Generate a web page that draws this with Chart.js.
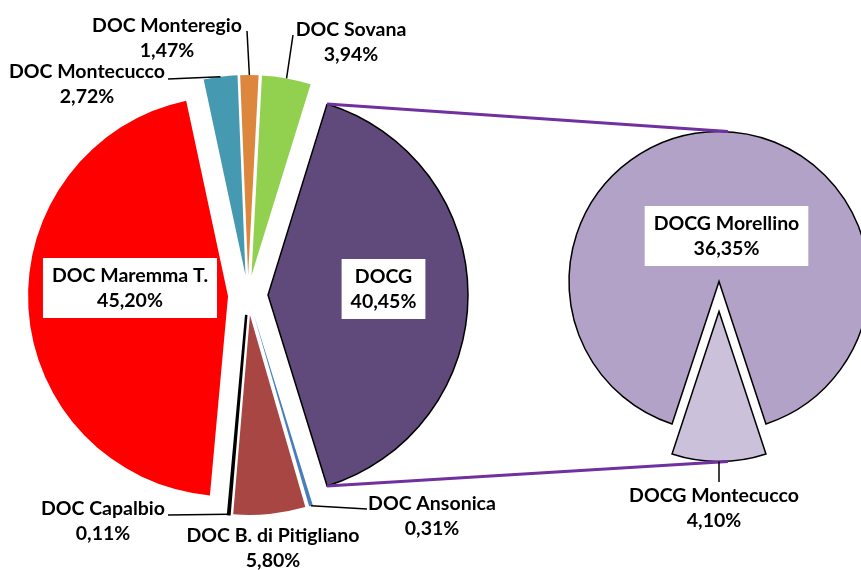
<!DOCTYPE html>
<html>
<head>
<meta charset="utf-8">
<script src="https://cdn.jsdelivr.net/npm/chart.js@4.4.1/dist/chart.umd.min.js"></script>
<style>
  html, body { margin: 0; padding: 0; background: #fff; overflow: hidden; }
  #wrap { position: relative; width: 861px; height: 570px; }
  canvas { position: absolute; left: 0; top: 0; }
</style>
</head>
<body>
<div id="wrap">
  <canvas id="grafica1" width="861" height="570"></canvas>
  <canvas id="grafica2" width="900" height="570"></canvas>
</div>
<script>
// dati
const mainLabels = ['DOCG', 'DOC Ansonica', 'DOC B. di Pitigliano', 'DOC Capalbio',
                    'DOC Maremma T.', 'DOC Montecucco', 'DOC Monteregio', 'DOC Sovana'];
const mainValues = [40.45, 0.31, 5.80, 0.11, 45.20, 2.72, 1.47, 3.94];
const docgLabels = ['DOCG Montecucco', 'DOCG Morellino'];
const docgValues = [4.10, 36.35];

const mainColors = ['#604a7b', '#4a7ebb', '#a84643', '#000000', '#ff0000', '#4599b1', '#dc863e', '#92d050'];
const mainBorders = [1.5, 0, 0, 2.5, 0, 0, 0, 0];
const docgColors = ['#ccc1da', '#b3a2c7'];

// posizione etichette (x centro, y prima riga, fine linea guida)
const mainLabelPos = [
    {x: 383.5, y: 283, box: true},
    {x: 432, y: 510, lx: 367, ly: 509},
    {x: 273, y: 542},
    {x: 103, y: 515, lx: 168, ly: 515},
    {x: 130, y: 282, box: true},
    {x: 87, y: 78, lx: 168, ly: 79},
    {x: 167, y: 32, lx: 247, ly: 31},
    {x: 351, y: 36, lx: 293, ly: 35}
];
const docgLabelPos = [
    {x: 714, y: 502, lx: 719, ly: 482},
    {x: 726.5, y: 230, box: true}
];

const FONT = 'bold 19.5px Lato';
const LINE_H = 25;

function fmt(v) {
    return v.toFixed(2).replace('.', ',') + '%';
}

function padFor(cx, cy, r, bw, w, h) {
    const size = 2 * r + bw;
    const left = cx - size / 2;
    const top = cy - size / 2;
    return {left: left, top: top, right: w - left - size, bottom: h - top - size};
}

// centro spostato della fetta (esplosa)
function shifted(arc, dist) {
    const mid = (arc.startAngle + arc.endAngle) / 2;
    return {x: arc.x + Math.cos(mid) * dist, y: arc.y + Math.sin(mid) * dist};
}
function edgePoint(arc, dist, angle) {
    const c = shifted(arc, dist);
    return {x: c.x + Math.cos(angle) * arc.outerRadius, y: c.y + Math.sin(angle) * arc.outerRadius};
}

const explode = {
    id: 'explode',
    beforeDatasetDraw(chart, args, opts) {
        const ctx = chart.ctx;
        args.meta.data.forEach(arc => {
            const c = shifted(arc, opts.distance);
            ctx.save();
            ctx.translate(c.x - arc.x, c.y - arc.y);
            arc.draw(ctx);
            ctx.restore();
        });
        return false;
    }
};

function drawLabels(chart, labels, values, pos, dist) {
    const ctx = chart.ctx;
    const arcs = chart.getDatasetMeta(0).data;
    ctx.save();
    ctx.font = FONT;
    ctx.textAlign = 'center';
    ctx.textBaseline = 'alphabetic';
    arcs.forEach((arc, i) => {
        const p = pos[i];
        const l1 = labels[i], l2 = fmt(values[i]);
        if (p.lx !== undefined) {
            const mid = (arc.startAngle + arc.endAngle) / 2;
            const s = edgePoint(arc, dist, mid);
            ctx.strokeStyle = '#000';
            ctx.lineWidth = 1.5;
            ctx.beginPath();
            ctx.moveTo(s.x, s.y);
            ctx.lineTo(p.lx, p.ly);
            ctx.stroke();
        }
        if (p.box) {
            const w = Math.max(ctx.measureText(l1).width, ctx.measureText(l2).width) + 18;
            ctx.fillStyle = '#fff';
            ctx.fillRect(p.x - w / 2, p.y - 24, w, LINE_H + 35);
        }
        ctx.fillStyle = '#000';
        ctx.fillText(l1, p.x, p.y);
        ctx.fillText(l2, p.x, p.y + LINE_H);
    });
    ctx.restore();
}

const MAIN = {cx: 248, cy: 295, r: 200, dist: 20};
const SEC = {cx: 719, cy: 296.5, r: 150, dist: 15};

const mainChart = new Chart(document.getElementById('grafica1'), {
    type: 'pie',
    data: {
        labels: mainLabels,
        datasets: [{
            data: mainValues,
            backgroundColor: mainColors,
            borderColor: '#000',
            borderWidth: mainBorders,
            borderJoinStyle: 'miter'
        }]
    },
    options: {
        responsive: false,
        animation: false,
        events: [],
        rotation: 90 - mainValues[0] * 3.6 / 2,
        layout: {padding: padFor(MAIN.cx, MAIN.cy, MAIN.r, Math.max(...mainBorders), 861, 570)},
        plugins: {
            legend: {display: false},
            tooltip: {enabled: false},
            explode: {distance: MAIN.dist}
        }
    },
    plugins: [explode, {
        id: 'etichette1',
        afterDraw(chart) {
            drawLabels(chart, mainLabels, mainValues, mainLabelPos, MAIN.dist);
        }
    }]
});

const docgTotal = docgValues.reduce((a, b) => a + b, 0);

const docgChart = new Chart(document.getElementById('grafica2'), {
    type: 'pie',
    data: {
        labels: docgLabels,
        datasets: [{
            data: docgValues,
            backgroundColor: docgColors,
            borderColor: '#000',
            borderWidth: 1.5,
            borderJoinStyle: 'miter'
        }]
    },
    options: {
        responsive: false,
        animation: false,
        events: [],
        rotation: 180 - (docgValues[0] / docgTotal) * 360 / 2,
        layout: {padding: padFor(SEC.cx, SEC.cy, SEC.r, 1.5, 900, 570)},
        plugins: {
            legend: {display: false},
            tooltip: {enabled: false},
            explode: {distance: SEC.dist}
        }
    },
    plugins: [explode, {
        id: 'collegamenti',
        afterDraw(chart) {
            const ctx = chart.ctx;
            const docg = mainChart.getDatasetMeta(0).data[0];
            const sec = chart.getDatasetMeta(0).data;
            const a = edgePoint(docg, MAIN.dist, docg.startAngle);
            const b = edgePoint(docg, MAIN.dist, docg.endAngle);
            const top = edgePoint(sec[1], SEC.dist, (sec[1].startAngle + sec[1].endAngle) / 2);
            const bot = edgePoint(sec[0], SEC.dist, (sec[0].startAngle + sec[0].endAngle) / 2);
            ctx.save();
            ctx.strokeStyle = '#7030a0';
            ctx.lineWidth = 3;
            ctx.beginPath();
            ctx.moveTo(a.x, a.y);
            ctx.lineTo(top.x + 9, top.y);
            ctx.moveTo(b.x, b.y);
            ctx.lineTo(bot.x + 9, bot.y);
            ctx.stroke();
            ctx.restore();
            drawLabels(chart, docgLabels, docgValues, docgLabelPos, SEC.dist);
        }
    }]
});
</script>
</body>
</html>
